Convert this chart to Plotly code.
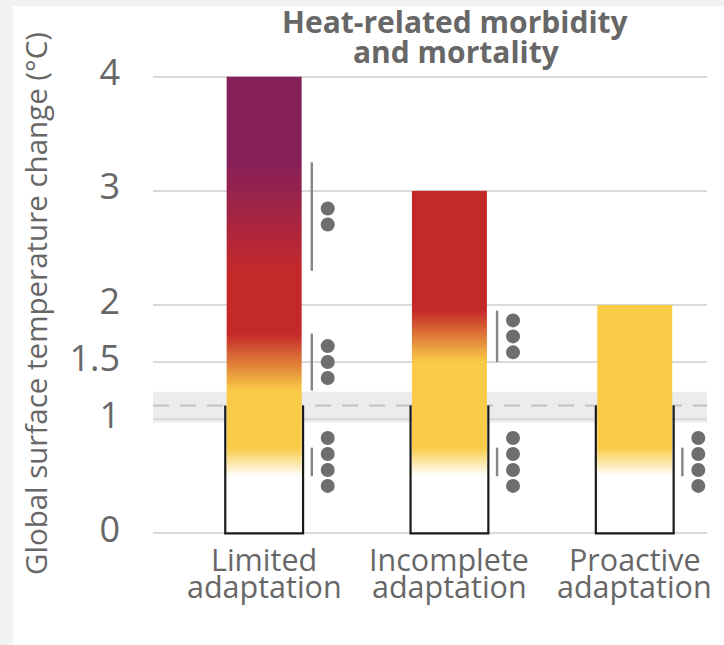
import numpy as np
import plotly.graph_objects as go

# ---------------- data ----------------
categories = ["Limited adaptation", "Incomplete adaptation", "Proactive adaptation"]
label_line1 = ["Limited", "Incomplete", "Proactive"]
label_line2 = ["adaptation", "adaptation", "adaptation"]
bar_top = [4.0, 3.0, 2.0]

# transition ranges (°C) between risk levels, None = no transition
white_yellow_lo = [0.50, 0.50, 0.50]
white_yellow_hi = [0.75, 0.75, 0.75]
yellow_red_lo = [1.25, 1.50, None]
yellow_red_hi = [1.75, 1.95, None]
red_purple_lo = [2.30, None, None]
red_purple_hi = [3.25, None, None]

# confidence (number of dots) for each transition
conf_white_yellow = [4, 4, 4]
conf_yellow_red = [3, 3, None]
conf_red_purple = [2, None, None]

observed_warming = 1.12
observed_lo = 0.97
observed_hi = 1.24

y_tickvals = [0, 1, 1.5, 2, 3, 4]
y_ticktext = ["0", "1", "1.5", "2", "3", "4"]

# ---------------- styling ----------------
W, H = 724, 645
ML, MR, MT, MB = 153, 17, 71, 106
YR = [-0.05, 4.05]
XR = [-0.60, 2.39]
FONT = "Open Sans"
TXT = "#676767"
risk_colors = ["#ffffff", "#f9cb46", "#c4292a", "#862059"]

def py2paper(py):
    return (H - MB - py) / (H - MT - MB)

def px2paper(px):
    return (px - ML) / (W - ML - MR)

x_pos = list(range(len(categories)))
bar_half = 0.2025
box_half = 0.21
line_off = 0.257
dot_off = 0.343
dot_step = 0.14
step = 0.01

transitions = [
    (white_yellow_lo, white_yellow_hi, conf_white_yellow),
    (yellow_red_lo, yellow_red_hi, conf_yellow_red),
    (red_purple_lo, red_purple_hi, conf_red_purple),
]

fig = go.Figure()

colorscale = [[i / 3, c] for i, c in enumerate(risk_colors)]

for i, xc in enumerate(x_pos):
    edges = np.arange(0, bar_top[i] + step / 2, step)
    mids = (edges[:-1] + edges[1:]) / 2
    z = np.zeros_like(mids)
    for lo, hi, _ in transitions:
        if lo[i] is not None:
            z += np.clip((mids - lo[i]) / (hi[i] - lo[i]), 0, 1)
    fig.add_trace(go.Heatmap(
        x=[xc - bar_half, xc + bar_half], y=edges, z=z.reshape(-1, 1),
        colorscale=colorscale, zmin=0, zmax=3, showscale=False,
        hoverinfo="skip",
    ))
    # open-top box up to observed warming
    fig.add_trace(go.Scatter(
        x=[xc - box_half, xc - box_half, xc + box_half, xc + box_half],
        y=[observed_warming, 0, 0, observed_warming],
        mode="lines", line=dict(color="#1a1a1a", width=2.2),
        hoverinfo="skip", showlegend=False,
    ))
    # confidence lines and dots
    for lo, hi, conf in transitions:
        if lo[i] is None:
            continue
        fig.add_trace(go.Scatter(
            x=[xc + line_off, xc + line_off], y=[lo[i], hi[i]],
            mode="lines", line=dict(color="#858585", width=2.4),
            hoverinfo="skip", showlegend=False,
        ))
        n = conf[i]
        mid = (lo[i] + hi[i]) / 2
        ys = [mid + (k - (n - 1) / 2) * dot_step for k in range(n)]
        fig.add_trace(go.Scatter(
            x=[xc + dot_off] * n, y=ys, mode="markers",
            marker=dict(color="#6e6e6e", size=14, line=dict(width=0)),
            hoverinfo="skip", showlegend=False,
        ))

shapes = [
    # outer light-grey frame strips
    dict(type="rect", xref="paper", yref="paper", x0=px2paper(0), x1=px2paper(13),
         y0=py2paper(H), y1=py2paper(0), fillcolor="#f2f2f2", line=dict(width=0), layer="below"),
    dict(type="rect", xref="paper", yref="paper", x0=px2paper(0), x1=px2paper(W),
         y0=py2paper(6), y1=py2paper(0), fillcolor="#f2f2f2", line=dict(width=0), layer="below"),
    # observed warming band and dashed line
    dict(type="rect", xref="paper", yref="y", x0=0, x1=1, y0=observed_lo, y1=observed_hi,
         fillcolor="#ececec", line=dict(width=0), layer="below"),
    dict(type="line", xref="paper", yref="y", x0=0, x1=1, y0=observed_warming, y1=observed_warming,
         line=dict(color="#c2c2c2", width=2, dash="16px,11px"), layer="below"),
]

annotations = [
    dict(text="<b>Heat-related morbidity</b>", xref="paper", yref="paper",
         x=px2paper(455), y=py2paper(22), xanchor="center", yanchor="middle",
         showarrow=False, font=dict(family=FONT, size=30, color=TXT)),
    dict(text="<b>and mortality</b>", xref="paper", yref="paper",
         x=px2paper(456), y=py2paper(52), xanchor="center", yanchor="middle",
         showarrow=False, font=dict(family=FONT, size=30, color=TXT)),
    dict(text="Global surface temperature change (°C)", xref="paper", yref="paper",
         x=px2paper(35), y=py2paper(304), xanchor="center", yanchor="middle",
         textangle=-90, showarrow=False, font=dict(family=FONT, size=29.5, color=TXT)),
]
for i, xc in enumerate(x_pos):
    annotations.append(dict(text=label_line1[i], xref="x", yref="paper", x=xc,
                            y=py2paper(559), xanchor="center", yanchor="middle",
                            showarrow=False, font=dict(family=FONT, size=30.5, color=TXT)))
    annotations.append(dict(text=label_line2[i], xref="x", yref="paper", x=xc,
                            y=py2paper(586), xanchor="center", yanchor="middle",
                            showarrow=False, font=dict(family=FONT, size=30.5, color=TXT)))

fig.update_layout(
    width=W, height=H, margin=dict(l=ML, r=MR, t=MT, b=MB),
    paper_bgcolor="white", plot_bgcolor="rgba(0,0,0,0)",
    showlegend=False, shapes=shapes, annotations=annotations,
    font=dict(family=FONT, color=TXT),
)
fig.update_xaxes(range=XR, showgrid=False, zeroline=False, showticklabels=False,
                 showline=False, fixedrange=True)
fig.update_yaxes(range=YR, tickvals=y_tickvals, ticktext=y_ticktext,
                 showgrid=True, gridcolor="#dadada", gridwidth=1.5, zeroline=False,
                 showline=False, ticks="", ticklabelstandoff=32, ticklabelshift=-4,
                 tickfont=dict(family=FONT, size=36, color=TXT), fixedrange=True)

fig.write_html("out.html", config={"displayModeBar": False},
               post_script="document.body.style.margin='0';document.body.style.padding='0';")
